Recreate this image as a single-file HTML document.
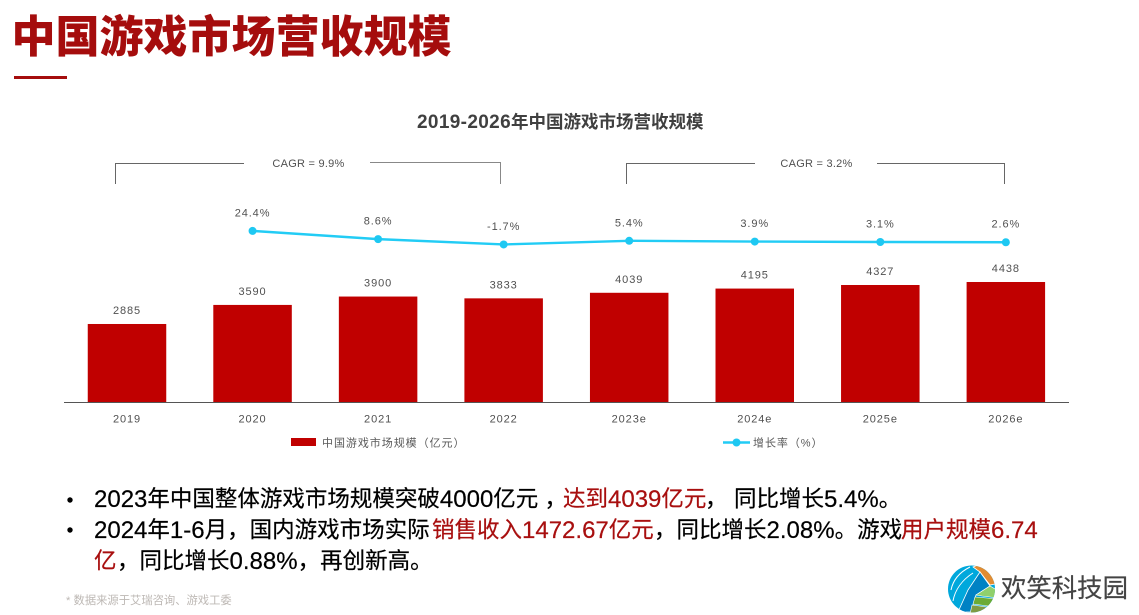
<!DOCTYPE html>
<html lang="zh-CN">
<head>
<meta charset="utf-8">
<title>中国游戏市场营收规模</title>
<style>
html,body{margin:0;padding:0;background:#fff;width:1139px;height:615px;overflow:hidden}
svg{display:block;font-family:"Liberation Sans","Noto Sans CJK SC",sans-serif}
.lab{font-size:11px;fill:#505050;letter-spacing:.9px;text-anchor:middle;dominant-baseline:central}
.leg{font-size:11px;fill:#595959;letter-spacing:.95px;dominant-baseline:central}
.body{font-size:22.5px;fill:#000;stroke:#000;stroke-width:.2px;dominant-baseline:central}
.red{fill:#a80f0f;stroke:#a80f0f}
.d{font-size:24px}
</style>
</head>
<body>
<svg id="slide" width="1139" height="615" viewBox="0 0 1139 615" xmlns="http://www.w3.org/2000/svg">
  <text x="11.5" y="52" font-size="44" font-weight="900" fill="#a50d0d">中国游戏市场营收规模</text>
  <rect x="14" y="76" width="53" height="3" fill="#a50d0d"/>
  <text x="417" y="122" font-size="17.5" font-weight="700" fill="#404040" dominant-baseline="central"><tspan font-size="19" letter-spacing=".35">2019-2026</tspan>年中国游戏市场营收规模</text>

  <path d="M115.5 184V163.5H244" fill="none" stroke="#666" stroke-width="1"/>
  <path d="M370 162.5H500.5V184" fill="none" stroke="#888" stroke-width="1"/>
  <text class="lab" x="308.5" y="164" style="letter-spacing:.25px">CAGR = 9.9%</text>
  <path d="M626.5 184V163.5H755" fill="none" stroke="#666" stroke-width="1"/>
  <path d="M877 163.5H1004.5V184" fill="none" stroke="#666" stroke-width="1"/>
  <text class="lab" x="816.5" y="164" style="letter-spacing:.25px">CAGR = 3.2%</text>

  <g id="bars"></g>
  <g id="line"></g>
  <line x1="64" x2="1069" y1="402.5" y2="402.5" stroke="#555" stroke-width="1"/>
  <g id="ticks"></g>

  <g>
    <rect x="291" y="438" width="25" height="8" fill="#c00000"/>
    <text class="leg" x="322" y="443.5">中国游戏市场规模（亿元）</text>
  </g>
  <g>
    <line x1="723" x2="750" y1="442.5" y2="442.5" stroke="#22ccf5" stroke-width="2.4"/>
    <circle cx="736.5" cy="442.5" r="4" fill="#1ec8f2"/>
    <text class="leg" x="753" y="443.5">增长率（%）</text>
  </g>

  <circle cx="70" cy="500" r="2.7" fill="#000"/>
  <text class="body" x="94" y="499"><tspan class="d">2023</tspan>年中国整体游戏市场规模突破<tspan class="d">4000</tspan>亿元 ，</text>
  <text class="body red" x="563" y="499">达到<tspan class="d">4039</tspan>亿元</text>
  <text class="body" x="705" y="499">，</text>
  <text class="body" x="734" y="499">同比增长<tspan class="d">5.4%</tspan>。</text>

  <circle cx="70" cy="530" r="2.7" fill="#000"/>
  <text class="body" x="94" y="530"><tspan class="d">2024</tspan>年<tspan class="d">1-6</tspan>月，国内游戏市场实际</text>
  <text class="body red" x="432" y="530">销售收入<tspan class="d">1472.67</tspan>亿元</text>
  <text class="body" x="654" y="530">，同比增长<tspan class="d">2.08%</tspan>。游戏</text>
  <text class="body red" x="901" y="530">用户规模<tspan class="d">6.74</tspan></text>
  <text class="body red" x="94" y="561">亿</text>
  <text class="body" x="117" y="561">，同比增长<tspan class="d">0.88%</tspan>，再创新高。</text>

  <text x="66" y="601" font-size="11.3" fill="#bdb8b4" dominant-baseline="central">* 数据来源于艾瑞咨询、游戏工委</text>

  <g>
    <defs><clipPath id="ball"><circle cx="971.5" cy="589" r="23.5"/></clipPath></defs>
    <g clip-path="url(#ball)">
      <rect x="945" y="562" width="55" height="55" fill="#00a8dc"/>
      <path d="M973 567L985 562L1000 583L990 585L980 572Z" fill="#e28c32" stroke="#fff" stroke-width=".8"/>
      <path d="M980 572L990 586L976 595L971 612L958 612L968 590Z" fill="#0082c4" stroke="#fff" stroke-width=".8"/>
      <path d="M976 595L990 586L1000 592L998 598L982 596Z" fill="#90d06c" stroke="#fff" stroke-width=".6"/>
      <path d="M975 597L998 599L996 607L973 604Z" fill="#6bab36" stroke="#fff" stroke-width=".6"/>
      <path d="M972 605L994 608L982 616L970 614Z" fill="#7f9b44" stroke="#fff" stroke-width=".6"/>
      <path d="M951 590C953 580 960 572 970 567M953 601C955 590 962 580 973 573" fill="none" stroke="#fff" stroke-width="1"/>
    </g>
    <text x="1001" y="589" font-size="25.4" fill="#444" stroke="#444" stroke-width=".2" dominant-baseline="central">欢笑科技园</text>
  </g>
</svg>
<script>
const categories = ['2019','2020','2021','2022','2023e','2024e','2025e','2026e'];
const marketSize = [2885,3590,3900,3833,4039,4195,4327,4438];
const growthCategories = ['2020','2021','2022','2023e','2024e','2025e','2026e'];
const growthRate = [24.4,8.6,-1.7,5.4,3.9,3.1,2.6];
const growthLabels = ['24.4%','8.6%','-1.7%','5.4%','3.9%','3.1%','2.6%'];

const NS = 'http://www.w3.org/2000/svg';
const xCenter = function (c) { return 127 + 125.55 * categories.indexOf(c); };
const yBar = function (v) { return 402 - v * 0.02704; };
const yLine = function (v) { return 243.6 - v * 0.52; };
const barWidth = 78.5;
const make = function (tag, parent) {
  const el = document.createElementNS(NS, tag);
  parent.appendChild(el);
  return el;
};
const barsG = document.getElementById('bars');
const ticksG = document.getElementById('ticks');
const lineG = document.getElementById('line');

categories.forEach(function (c, i) {
  const r = make('rect', barsG);
  
  
  r.setAttribute('x', xCenter(c) - barWidth / 2);
  r.setAttribute('y', yBar(marketSize[i]));
  r.setAttribute('width', barWidth);
  r.setAttribute('height', 402 - yBar(marketSize[i]));
  r.setAttribute('fill', '#c00000');

  const t = make('text', barsG);
  
  
  t.setAttribute('class', 'lab');
  t.setAttribute('x', xCenter(c));
  t.setAttribute('y', yBar(marketSize[i]) - 13);
  t.textContent = marketSize[i];

  const k = make('text', ticksG);
  
  
  k.setAttribute('class', 'lab');
  k.setAttribute('x', xCenter(c));
  k.setAttribute('y', 419.5);
  k.textContent = c;
});

const path = make('polyline', lineG);


path.setAttribute('fill', 'none');
path.setAttribute('stroke', '#22ccf5');
path.setAttribute('stroke-width', '2.4');
path.setAttribute('points', growthCategories.map(function (c, i) {
  return xCenter(c) + ',' + yLine(growthRate[i]);
}).join(' '));

growthCategories.forEach(function (c, i) {
  const p = make('circle', lineG);
  
  
  p.setAttribute('cx', xCenter(c));
  p.setAttribute('cy', yLine(growthRate[i]));
  p.setAttribute('r', 4);
  p.setAttribute('fill', '#1ec8f2');

  const t = make('text', lineG);
  
  
  t.setAttribute('class', 'lab');
  t.setAttribute('x', xCenter(c));
  t.setAttribute('y', yLine(growthRate[i]) - 17.5);
  t.textContent = growthLabels[i];
});
</script>
</body>
</html>
